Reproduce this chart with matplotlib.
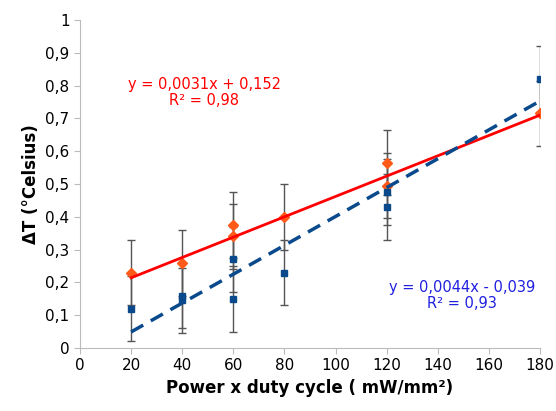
import numpy as np
import matplotlib.pyplot as plt

x_red = [20, 40, 60, 60, 80, 120, 120, 180]
y_red = [0.23, 0.26, 0.375, 0.34, 0.40, 0.565, 0.495, 0.715]
x_blue = [20, 40, 40, 60, 60, 80, 120, 120, 180]
y_blue = [0.12, 0.16, 0.145, 0.27, 0.15, 0.23, 0.475, 0.43, 0.82]
err = 0.1

fig = plt.figure(figsize=(5.56, 4.11), dpi=100)
ax = fig.add_axes([80/556, 63/411, 460/556, 328/411])

ax.errorbar(x_red, y_red, yerr=err, fmt='D', color='#ff5a1a', ms=5,
            ecolor='#555555', elinewidth=1, capsize=3, zorder=3)
ax.errorbar(x_blue, y_blue, yerr=err, fmt='s', color='#0a4a8c', ms=5,
            ecolor='#555555', elinewidth=1, capsize=3, zorder=3)

xl = np.array([20, 180])
ax.plot(xl, 0.0031 * xl + 0.152, color='red', lw=2, zorder=4)
ax.plot(xl, 0.0044 * xl - 0.039, color='#0a4a8c', lw=2.5, ls=(0, (4, 2.5)), zorder=4)

ax.text(0.27, 0.78, 'y = 0,0031x + 0,152\nR² = 0,98', transform=ax.transAxes,
        color='red', fontsize=10.5, ha='center', va='center', linespacing=1.1)
ax.text(0.83, 0.16, 'y = 0,0044x - 0,039\nR² = 0,93', transform=ax.transAxes,
        color='#2020e0', fontsize=10.5, ha='center', va='center', linespacing=1.1)

ax.set_xlim(0, 180)
ax.set_ylim(0, 1)
ax.set_xticks(range(0, 181, 20))
ax.set_yticks(np.arange(0, 1.01, 0.1))
ax.set_yticklabels(['0'] + [f'{v:.1f}'.replace('.', ',') for v in np.arange(0.1, 1.0, 0.1)] + ['1'])
ax.tick_params(labelsize=11, length=4, color='#bbbbbb')
for s in ['top', 'right']:
    ax.spines[s].set_visible(False)
for s in ['left', 'bottom']:
    ax.spines[s].set_color('#bbbbbb')

ax.set_xlabel('Power x duty cycle ( mW/mm²)', fontsize=12, fontweight='bold')
ax.set_ylabel('ΔT (°Celsius)', fontsize=12, fontweight='bold')

fig.savefig('out.png', dpi=100)
